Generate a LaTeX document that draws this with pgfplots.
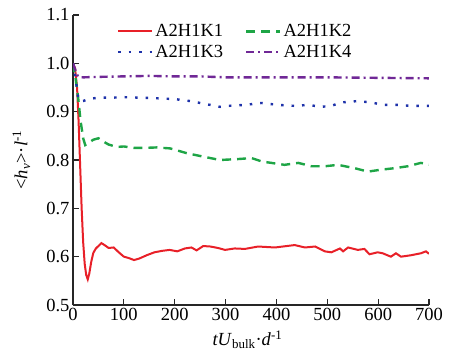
\documentclass[border=0pt]{standalone}
\usepackage{fontspec}
\setmainfont{Liberation Serif}
\usepackage{pgfplots}
\pgfplotsset{compat=1.18}
\definecolor{cred}{RGB}{232,32,40}
\definecolor{cgreen}{RGB}{30,165,70}
\definecolor{cblue}{RGB}{30,50,170}
\definecolor{cpurple}{RGB}{112,40,150}
\newcommand{\fs}{\fontsize{18.5}{21}\selectfont}
\begin{document}
\begin{tikzpicture}
\path[use as bounding box] (0,0) rectangle (449pt,350pt);
\begin{axis}[
  at={(73pt,45pt)}, anchor=south west,
  scale only axis, width=356pt, height=290pt,
  xmin=0, xmax=700, ymin=0.5, ymax=1.1,
  axis lines*=left,
  axis line style={line width=1.4pt, black!85},
  tick style={line width=1.2pt, black!85},
  tick align=inside, major tick length=6pt,
  xtick={0,100,...,700},
  ytick={0.5,0.6,...,1.1},
  /pgf/number format/assume math mode=true,
  yticklabel style={/pgf/number format/fixed, /pgf/number format/zerofill, /pgf/number format/precision=1, font=\fs},
  xticklabel style={font=\fs},
  ylabel={<\textit{h}\textsubscript{\textit{v}}>·\textit{l}\textsuperscript{-1}},
  xlabel={\textit{tU}\textsubscript{bulk}·\textit{d}\textsuperscript{-1}},
  label style={font=\fs},
  ylabel style={at={(axis description cs:-0.145,0.5)}, anchor=center},
  xlabel style={at={(axis description cs:0.49,-0.12)}, anchor=center},
  legend columns=2,
  legend style={draw=none, fill=none, at={(0.12,0.978)}, anchor=north west, font=\fs,
    /tikz/every even column/.append style={column sep=20pt}, row sep=3pt, inner sep=1pt},
  legend image code/.code={\draw[#1] (0pt,0pt) -- (34pt,0pt);},
]
\addplot[cred, line width=2pt] coordinates {
(0,1.0)(4,0.99)(8,0.95)(11,0.88)(14,0.79)(17,0.70)(20,0.63)(23,0.585)(26,0.562)(29,0.553)(32,0.565)(36,0.59)(40,0.608)(45,0.617)(50,0.622)(56,0.628)(62,0.624)(70,0.618)(80,0.619)(90,0.609)(100,0.600)(110,0.597)(120,0.593)(130,0.596)(145,0.603)(160,0.609)(175,0.612)(190,0.614)(205,0.611)(220,0.617)(233,0.619)(243,0.613)(256,0.622)(270,0.621)(285,0.618)(299,0.614)(318,0.617)(338,0.616)(364,0.621)(397,0.619)(436,0.624)(456,0.619)(476,0.621)(495,0.611)(508,0.609)(525,0.617)(531,0.611)(541,0.619)(560,0.614)(573,0.616)(583,0.605)(599,0.609)(609,0.607)(625,0.600)(635,0.607)(645,0.600)(665,0.603)(684,0.607)(694,0.611)(700,0.606)
};
\addlegendentry{A2H1K1}
\addplot[cgreen, line width=2.4pt, dash pattern=on 9pt off 6pt] coordinates {
(0,1.0)(5,0.97)(10,0.93)(15,0.88)(20,0.845)(24,0.831)(30,0.835)(40,0.842)(50,0.845)(60,0.838)(70,0.832)(86,0.827)(100,0.828)(120,0.825)(140,0.825)(164,0.826)(191,0.824)(224,0.814)(256,0.807)(289,0.800)(325,0.802)(351,0.804)(371,0.797)(390,0.794)(416,0.790)(443,0.794)(469,0.787)(495,0.787)(521,0.790)(554,0.783)(580,0.776)(606,0.780)(632,0.783)(658,0.787)(684,0.794)(700,0.791)
};
\addlegendentry{A2H1K2}
\addplot[cblue, line width=2.4pt, dash pattern=on 2.5pt off 8pt] coordinates {
(0,1.0)(5,0.97)(10,0.93)(14,0.921)(20,0.922)(30,0.926)(50,0.929)(77,0.929)(100,0.930)(130,0.929)(160,0.928)(200,0.926)(230,0.922)(260,0.916)(289,0.910)(305,0.912)(338,0.914)(371,0.918)(403,0.914)(436,0.912)(462,0.914)(488,0.910)(508,0.912)(527,0.919)(560,0.922)(586,0.919)(612,0.914)(638,0.914)(664,0.912)(700,0.912)
};
\addlegendentry{A2H1K3}
\addplot[cpurple, line width=2.4pt, dash pattern=on 8pt off 4pt on 2pt off 4pt] coordinates {
(0,1.0)(5,0.985)(10,0.972)(20,0.971)(50,0.972)(100,0.973)(150,0.974)(200,0.973)(250,0.973)(300,0.971)(400,0.971)(500,0.971)(600,0.970)(700,0.969)
};
\addlegendentry{A2H1K4}
\end{axis}
\end{tikzpicture}
\end{document}
